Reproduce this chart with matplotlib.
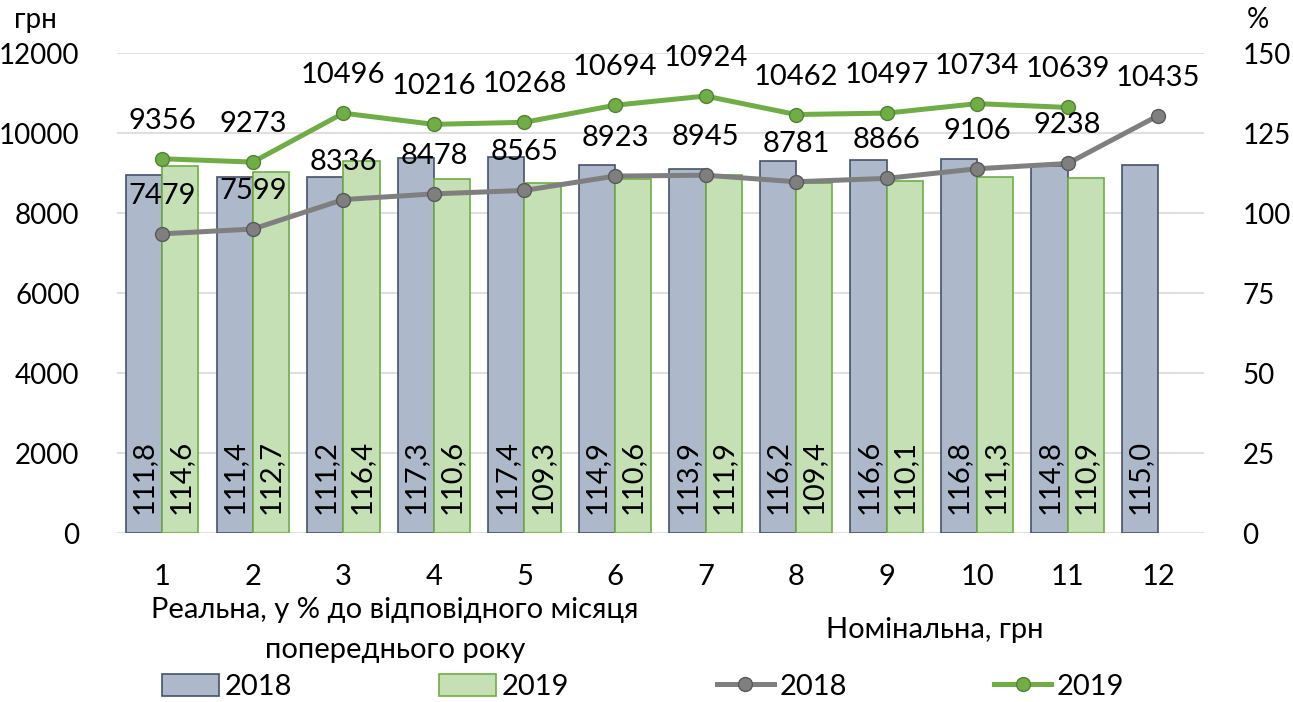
import matplotlib
matplotlib.use("Agg")
import matplotlib.pyplot as plt
import numpy as np
from matplotlib.patches import Patch
from matplotlib.lines import Line2D

plt.rcParams['font.family'] = ['Lato', 'DejaVu Sans']

months = ['1', '2', '3', '4', '5', '6', '7', '8', '9', '10', '11', '12']
real_2018 = [111.8, 111.4, 111.2, 117.3, 117.4, 114.9, 113.9, 116.2, 116.6, 116.8, 114.8, 115.0]
real_2019 = [114.6, 112.7, 116.4, 110.6, 109.3, 110.6, 111.9, 109.4, 110.1, 111.3, 110.9]
nom_2018 = [7479, 7599, 8336, 8478, 8565, 8923, 8945, 8781, 8866, 9106, 9238, 10435]
nom_2019 = [9356, 9273, 10496, 10216, 10268, 10694, 10924, 10462, 10497, 10734, 10639]

left_ticks = [0, 2000, 4000, 6000, 8000, 10000, 12000]
right_ticks = [0, 25, 50, 75, 100, 125, 150]

c_bar18, e_bar18 = '#adb9ca', '#44546a'
c_bar19, e_bar19 = '#c5e0b4', '#70ad47'
c_l18, e_l18 = '#7f7f7f', '#595959'
c_l19, e_l19 = '#70ad47', '#548235'

fs = 21
fs_tick = 20
fig = plt.figure(figsize=(12.93, 7.02), dpi=100)
ax = fig.add_axes([117 / 1293, 1 - 533 / 702, (1203.5 - 117) / 1293, 480 / 702])
ax2 = ax.twinx()

x = np.arange(len(months))
w = 0.4
x18 = x - w / 2
x19 = x[:len(real_2019)] + w / 2

# bars (percent, right scale)
ax.bar(x18, real_2018, width=w, color=c_bar18, edgecolor=e_bar18, linewidth=1.2, zorder=2)
ax.bar(x19, real_2019, width=w, color=c_bar19, edgecolor=e_bar19, linewidth=1.2, zorder=2)
for xi, v in zip(x18, real_2018):
    ax.annotate(f"{v:.1f}".replace('.', ','), (xi, 0), xytext=(0, 19), textcoords='offset pixels',
                rotation=90, ha='center', va='bottom', fontsize=fs, zorder=3)
for xi, v in zip(x19, real_2019):
    ax.annotate(f"{v:.1f}".replace('.', ','), (xi, 0), xytext=(0, 19), textcoords='offset pixels',
                rotation=90, ha='center', va='bottom', fontsize=fs, zorder=3)
ax.set_ylim(0, 150)
ax.set_yticks(right_ticks)
ax.yaxis.tick_right()
ax.grid(axis='y', color='#d9d9d9', linewidth=1.2, zorder=0)
ax.set_axisbelow(True)

# lines (nominal, left scale)
ax2.plot(x, nom_2018, color=c_l18, linewidth=3.6, marker='o', markersize=10,
         markerfacecolor=c_l18, markeredgecolor=e_l18, markeredgewidth=1, zorder=4)
ax2.plot(x[:len(nom_2019)], nom_2019, color=c_l19, linewidth=3.6, marker='o', markersize=10,
         markerfacecolor=c_l19, markeredgecolor=e_l19, markeredgewidth=1, zorder=4)
for xi, v in zip(x, nom_2018):
    ax2.annotate(str(v), (xi, v), xytext=(0, 38), textcoords='offset pixels',
                 ha='center', va='center', fontsize=fs, zorder=5)
for xi, v in zip(x, nom_2019):
    ax2.annotate(str(v), (xi, v), xytext=(0, 38), textcoords='offset pixels',
                 ha='center', va='center', fontsize=fs, zorder=5)
ax2.set_ylim(0, 12000)
ax2.set_yticks(left_ticks)
ax2.yaxis.tick_left()

ax.set_xlim(-0.5, len(months) - 0.5)
ax.set_xticks(x)
ax.set_xticklabels(months)

for a in (ax, ax2):
    for s in a.spines.values():
        s.set_visible(False)
    a.tick_params(length=0, labelsize=fs_tick)
ax.tick_params(axis='x', labelsize=fs)
ax.tick_params(axis='y', pad=28)
ax2.tick_params(axis='y', pad=27)
ax.tick_params(axis='x', pad=22)

fig.text(395 / 1293, 1 - 610 / 702, 'Реальна, у % до відповідного місяця', ha='center', va='center', fontsize=fs)
fig.text(395 / 1293, 1 - 650 / 702, 'попереднього року', ha='center', va='center', fontsize=fs)
fig.text(935 / 1293, 1 - 630 / 702, 'Номінальна, грн', ha='center', va='center', fontsize=fs)
fig.text(35 / 1293, 1 - 20 / 702, 'грн', ha='center', va='center', fontsize=fs_tick)
fig.text(1258 / 1293, 1 - 20 / 702, '%', ha='center', va='center', fontsize=fs_tick)

handles = [
    Patch(facecolor=c_bar18, edgecolor=e_bar18, linewidth=1.2),
    Patch(facecolor=c_bar19, edgecolor=e_bar19, linewidth=1.2),
    Line2D([], [], color=c_l18, linewidth=3.6, marker='o', markersize=10,
           markerfacecolor=c_l18, markeredgecolor=e_l18),
    Line2D([], [], color=c_l19, linewidth=3.6, marker='o', markersize=10,
           markerfacecolor=c_l19, markeredgecolor=e_l19),
]
fig.legend(handles, ['2018', '2019', '2018', '2019'], loc='center',
           bbox_to_anchor=(643 / 1293, 1 - 687 / 702), ncol=4, frameon=False,
           fontsize=fs, handlelength=1.95, handleheight=0.8, handletextpad=0.2,
           columnspacing=5.05, borderpad=0)

fig.savefig('out.png', dpi=100)
